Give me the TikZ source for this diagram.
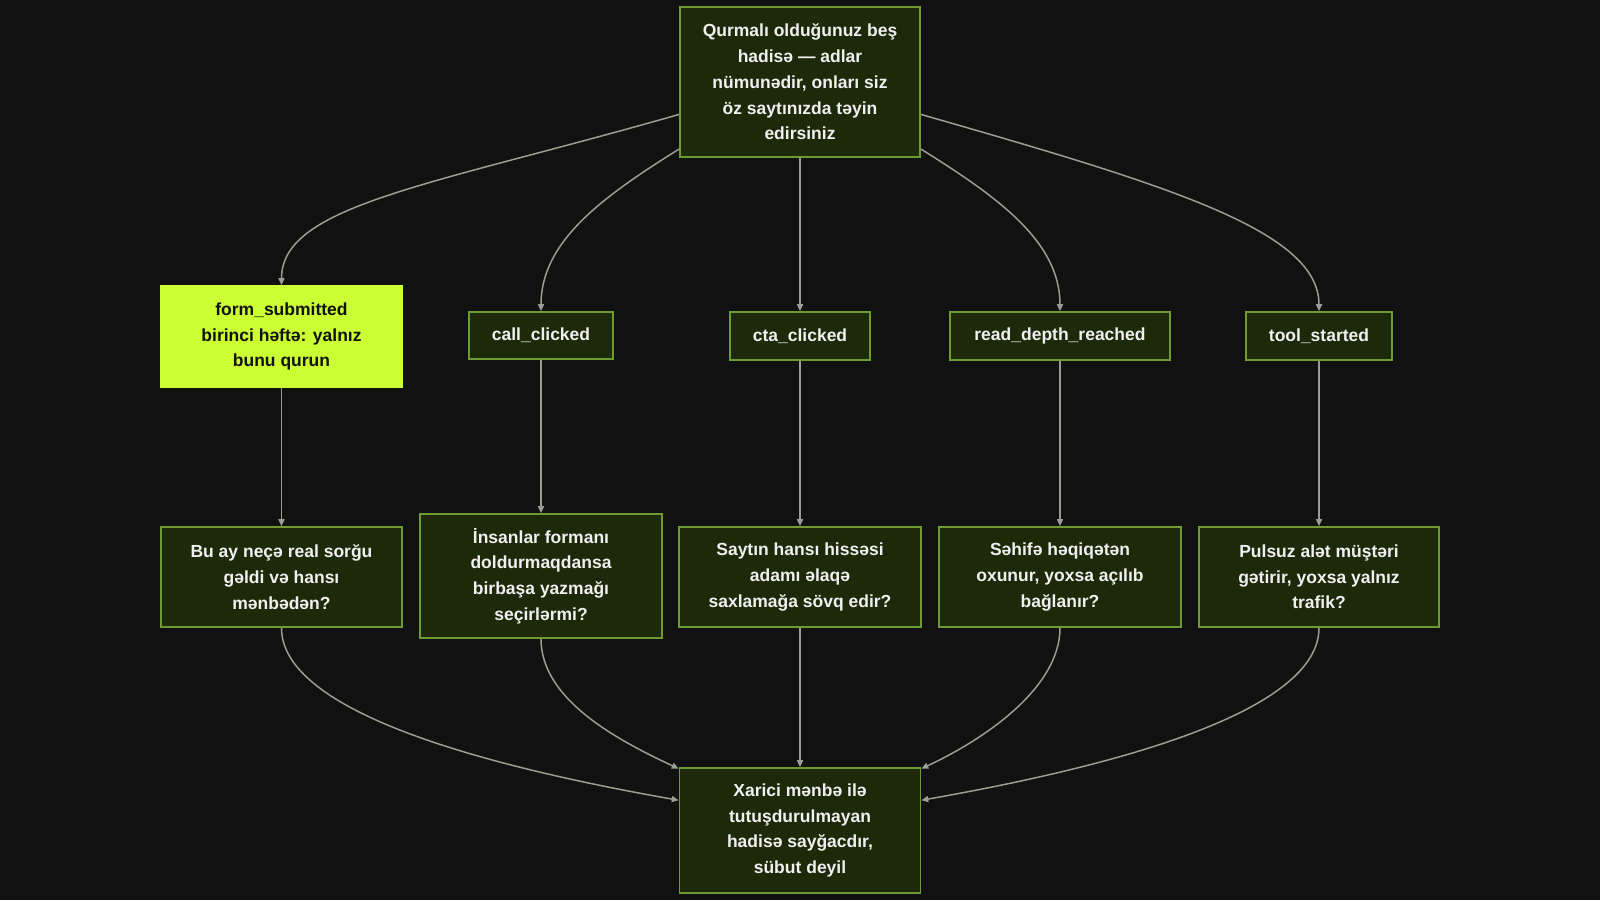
\documentclass[tikz,border=0pt]{standalone}
\usepackage{fontspec}
\setmainfont{Liberation Sans}
\usetikzlibrary{arrows.meta}
\definecolor{bgdark}{HTML}{111111}
\definecolor{boxfill}{HTML}{1C2A0A}
\definecolor{boxline}{HTML}{6E9B32}
\definecolor{lime}{HTML}{CCFF33}
\definecolor{linegrey}{HTML}{9C9C92}
\definecolor{ink}{HTML}{121212}

\begin{document}
\begin{tikzpicture}[x=1pt,y=1pt,
  box/.style={draw=boxline,fill=boxfill,line width=1.6pt,text=white!94!black,
    align=center,inner sep=0pt,font=\bfseries\fontsize{17.5}{25.7}\selectfont},
  hotbox/.style={box,draw=lime,fill=lime,text=ink},
  link/.style={draw=linegrey,line width=1.5pt,-{Triangle[length=7pt,width=6pt]}}]
  \fill[bgdark] (0,0) rectangle (1600,-900);
  \useasboundingbox (0,0) rectangle (1600,-900);

  \node[box,minimum width=240pt,minimum height=150pt] (root) at (800,-82)
    {Qurmalı olduğunuz beş\\hadisə — adlar\\nümunədir, onları siz\\öz saytınızda təyin\\edirsiniz};

  \node[hotbox,minimum width=241pt,minimum height=101pt] (fs) at (281.5,-336.5)
    {form\_submitted\\birinci həftə: yalnız\\bunu qurun};
  \node[box,minimum width=144pt,minimum height=47pt] (cc) at (541,-335.5) {call\_clicked};
  \node[box,minimum width=140pt,minimum height=48pt] (cta) at (800,-336) {cta\_clicked};
  \node[box,minimum width=220pt,minimum height=48pt] (rd) at (1060,-336) {read\_depth\_reached};
  \node[box,minimum width=146pt,minimum height=48pt] (ts) at (1319,-336) {tool\_started};

  \node[box,minimum width=241pt,minimum height=100pt] (q1) at (281.5,-577)
    {Bu ay neçə real sorğu\\gəldi və hansı\\mənbədən?};
  \node[box,minimum width=242pt,minimum height=124pt] (q2) at (541,-576)
    {İnsanlar formanı\\doldurmaqdansa\\birbaşa yazmağı\\seçirlərmi?};
  \node[box,minimum width=242pt,minimum height=100pt] (q3) at (800,-577)
    {Saytın hansı hissəsi\\adamı əlaqə\\saxlamağa sövq edir?};
  \node[box,minimum width=242pt,minimum height=100pt] (q4) at (1060,-577)
    {Səhifə həqiqətən\\oxunur, yoxsa açılıb\\bağlanır?};
  \node[box,minimum width=240pt,minimum height=100pt] (q5) at (1319,-577)
    {Pulsuz alət müştəri\\gətirir, yoxsa yalnız\\trafik?};

  \node[box,minimum width=241pt,minimum height=125pt] (sink) at (800,-830.5)
    {Xarici mənbə ilə\\tutuşdurulmayan\\hadisə sayğacdır,\\sübut deyil};

  \draw[link] (root.195) to[out=196,in=90,out distance=260pt,in distance=80pt] (fs.north);
  \draw[link] (root.209) to[out=212,in=90,out distance=90pt,in distance=70pt] (cc.north);
  \draw[link] (root.south) -- (cta.north);
  \draw[link] (root.331) to[out=-32,in=90,out distance=90pt,in distance=70pt] (rd.north);
  \draw[link] (root.345) to[out=-16,in=90,out distance=260pt,in distance=80pt] (ts.north);

  \draw[link] (fs.south) -- (q1.north);
  \draw[link] (cc.south) -- (q2.north);
  \draw[link] (cta.south) -- (q3.north);
  \draw[link] (rd.south) -- (q4.north);
  \draw[link] (ts.south) -- (q5.north);

  \draw[link] (q1.south) to[out=-90,in=170,out distance=70pt,in distance=260pt] (sink.166);
  \draw[link] (q2.south) to[out=-90,in=155,out distance=60pt,in distance=70pt] (sink.153);
  \draw[link] (q3.south) -- (sink.north);
  \draw[link] (q4.south) to[out=-90,in=25,out distance=60pt,in distance=70pt] (sink.27);
  \draw[link] (q5.south) to[out=-90,in=10,out distance=70pt,in distance=260pt] (sink.14);
\end{tikzpicture}
\end{document}
